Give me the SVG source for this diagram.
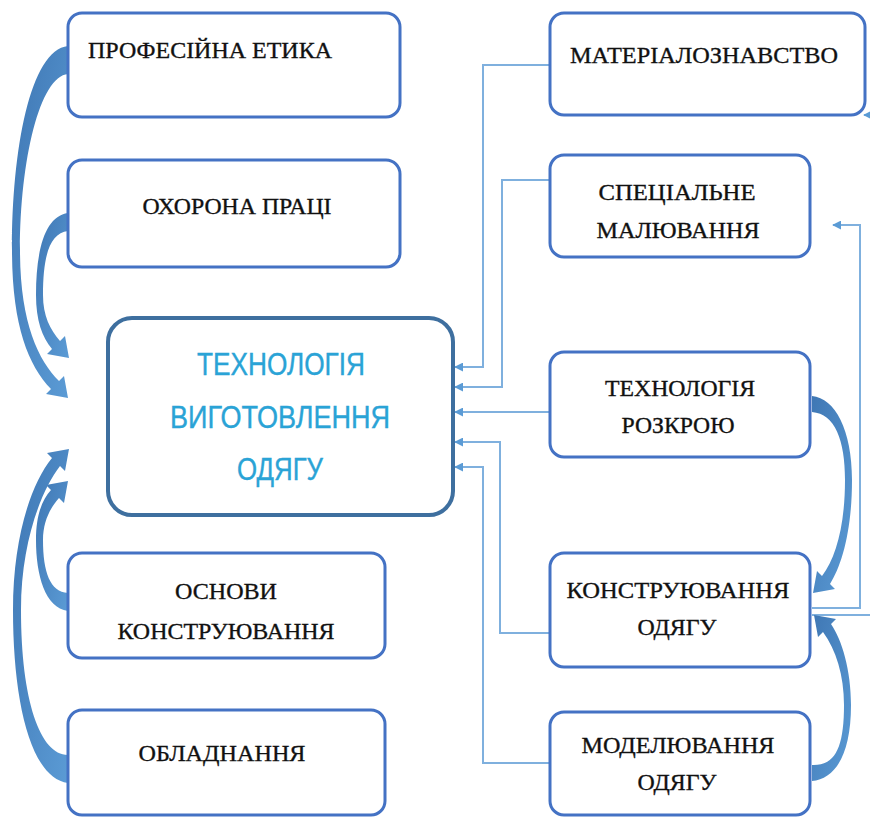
<svg xmlns="http://www.w3.org/2000/svg" width="870" height="817" viewBox="0 0 870 817">
<defs>
<marker id="ah" viewBox="0 0 10 10" refX="9" refY="5" markerWidth="9" markerHeight="9" markerUnits="userSpaceOnUse" orient="auto">
<path d="M0,0 L10,5 L0,10 Z" fill="#5b9bd5"/>
</marker>
<linearGradient id="g" x1="0" y1="0" x2="1" y2="1">
<stop offset="0" stop-color="#3f77b4"/>
<stop offset="1" stop-color="#5b9bd5"/>
</linearGradient>
</defs>
<style>
.box{fill:#ffffff;stroke:#4472c4;stroke-width:3}
.main{fill:#ffffff;stroke:#3e6f9f;stroke-width:4}
.t{font-family:"Liberation Serif","Times New Roman",serif;font-size:24px;fill:#111111;stroke:#111111;stroke-width:0.35;text-anchor:middle}
.m{font-family:"Liberation Sans",Arial,sans-serif;font-size:32px;fill:#2aa3d6;stroke:#2aa3d6;stroke-width:0.4;text-anchor:middle}
.ln{fill:none;stroke:#7fb0de;stroke-width:2;marker-end:url(#ah)}
.ln2{fill:none;stroke:#7fb0de;stroke-width:2}
.ca{fill:url(#g);stroke:none}
</style>
<rect width="870" height="817" fill="#ffffff"/>
<g id="connectors">
<path class="ln" d="M550,65 H483 V367 H455"/>
<path class="ln" d="M550,180 H502 V387 H455"/>
<path class="ln" d="M550,412 H455"/>
<path class="ln" d="M550,633 H500 V442 H455"/>
<path class="ln" d="M550,763 H483 V467 H455"/>
<path class="ln" d="M812,608 H860 V225 H833"/>
<path class="ln2" d="M812,615 H870"/>
<path class="ln" d="M872,115 H864"/>
<path class="ca" d="M68,46 C30,50 12,150 12,250 C12,325 28,365 51,389 L46,394 L68,398 L64,376 L59,381 C38,360 20,322 20,250 C20,160 40,76 68,74 Z"/>
<path class="ca" d="M68,213 C45,216 36,250 36,295 C36,320 42,337 52,349 L47,354 L69,358 L65,336 L60,341 C50,329 43,316 43,295 C43,255 50,233 68,231 Z"/>
<path class="ca" d="M68,611 C45,608 36,575 36,540 C36,515 42,500 51,490 L46,485 L68,481 L64,503 L59,498 C50,508 43,522 43,540 C43,572 50,592 68,593 Z"/>
<path class="ca" d="M68,783 C30,778 13,700 13,610 C13,540 30,485 52,458 L47,453 L69,449 L65,471 L60,466 C40,492 21,545 21,610 C21,700 40,755 68,755 Z"/>
<path class="ca" d="M812,396 C835,398 852,430 852,480 C852,530 842,565 830,584 L835,589 L813,593 L817,571 L822,576 C836,558 845,525 845,480 C845,440 835,414 812,412 Z"/>
<path class="ca" d="M812,781 C835,779 851,755 851,705 C851,670 842,640 831,624 L836,619 L814,615 L818,637 L823,632 C836,650 844,675 844,705 C844,748 835,766 812,765 Z"/>
</g>
<g id="n-main">
<rect class="main" x="108" y="318" width="345" height="197" rx="24"/>
<text class="m" x="281" y="375" textLength="168" lengthAdjust="spacingAndGlyphs">ТЕХНОЛОГІЯ</text>
<text class="m" x="280" y="428" textLength="220" lengthAdjust="spacingAndGlyphs">ВИГОТОВЛЕННЯ</text>
<text class="m" x="280" y="480" textLength="86" lengthAdjust="spacingAndGlyphs">ОДЯГУ</text>
</g>
<g id="n-etyka">
<rect class="box" x="68" y="13" width="332" height="104" rx="14"/>
<text class="t" x="210" y="58" textLength="244" lengthAdjust="spacingAndGlyphs">ПРОФЕСІЙНА ЕТИКА</text>
</g>
<g id="n-okhorona">
<rect class="box" x="68" y="160" width="332" height="107" rx="14"/>
<text class="t" x="237" y="214" textLength="189" lengthAdjust="spacingAndGlyphs">ОХОРОНА ПРАЦІ</text>
</g>
<g id="n-osnovy">
<rect class="box" x="68" y="553" width="317" height="105" rx="14"/>
<text class="t" x="226" y="599" textLength="102" lengthAdjust="spacingAndGlyphs">ОСНОВИ</text>
<text class="t" x="226" y="639" textLength="217" lengthAdjust="spacingAndGlyphs">КОНСТРУЮВАННЯ</text>
</g>
<g id="n-obladnannia">
<rect class="box" x="68" y="710" width="317" height="105" rx="14"/>
<text class="t" x="222" y="761" textLength="167" lengthAdjust="spacingAndGlyphs">ОБЛАДНАННЯ</text>
</g>
<g id="n-material">
<rect class="box" x="550" y="13" width="315" height="102" rx="14"/>
<text class="t" x="704" y="63" textLength="268" lengthAdjust="spacingAndGlyphs">МАТЕРІАЛОЗНАВСТВО</text>
</g>
<g id="n-malyuvannia">
<rect class="box" x="550" y="155" width="260" height="102" rx="14"/>
<text class="t" x="677" y="200" textLength="157" lengthAdjust="spacingAndGlyphs">СПЕЦІАЛЬНЕ</text>
<text class="t" x="678" y="238" textLength="163" lengthAdjust="spacingAndGlyphs">МАЛЮВАННЯ</text>
</g>
<g id="n-rozkriy">
<rect class="box" x="550" y="352" width="260" height="105" rx="14"/>
<text class="t" x="680" y="396" textLength="150" lengthAdjust="spacingAndGlyphs">ТЕХНОЛОГІЯ</text>
<text class="t" x="678" y="433" textLength="113" lengthAdjust="spacingAndGlyphs">РОЗКРОЮ</text>
</g>
<g id="n-konstruyuvannia">
<rect class="box" x="550" y="553" width="260" height="114" rx="14"/>
<text class="t" x="678" y="598" textLength="223" lengthAdjust="spacingAndGlyphs">КОНСТРУЮВАННЯ</text>
<text class="t" x="677" y="635" textLength="79" lengthAdjust="spacingAndGlyphs">ОДЯГУ</text>
</g>
<g id="n-modeliuvannia">
<rect class="box" x="550" y="712" width="260" height="103" rx="14"/>
<text class="t" x="678" y="753" textLength="193" lengthAdjust="spacingAndGlyphs">МОДЕЛЮВАННЯ</text>
<text class="t" x="677" y="790" textLength="79" lengthAdjust="spacingAndGlyphs">ОДЯГУ</text>
</g>
</svg>
